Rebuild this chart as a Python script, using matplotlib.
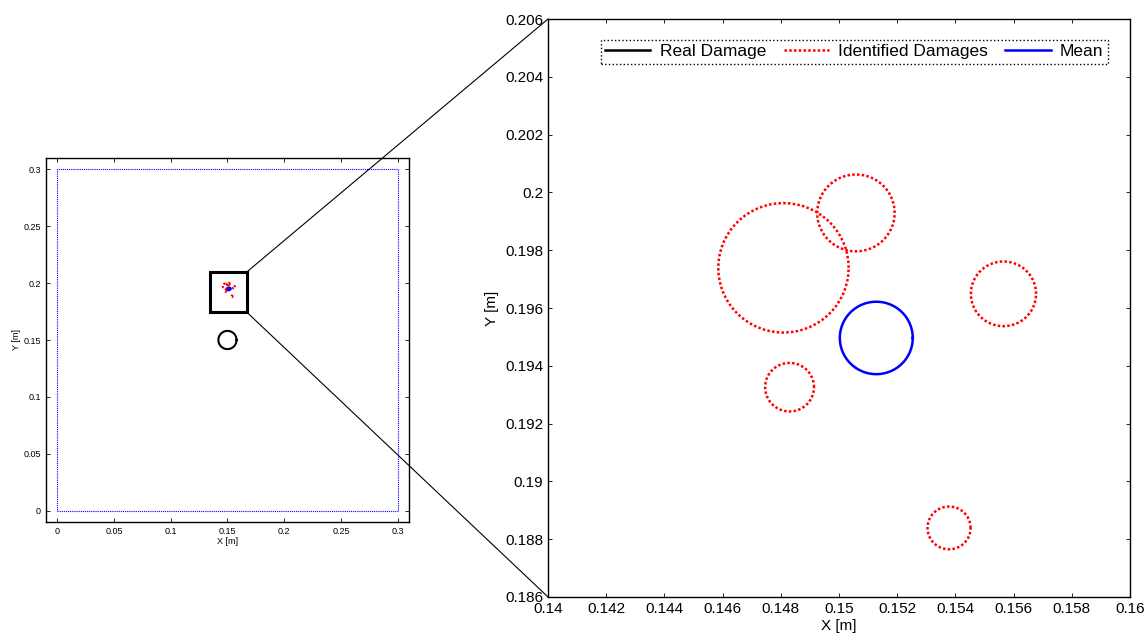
import numpy as np
import matplotlib
matplotlib.use("Agg")
import matplotlib.pyplot as plt
from matplotlib.patches import ConnectionPatch, Rectangle
from matplotlib.ticker import MultipleLocator, FuncFormatter

plt.rcParams["font.family"] = ["Liberation Sans", "DejaVu Sans"]

# plate outline [m]
PLATE = (0.0, 0.3)

# real damage
real_x = 0.150
real_y = 0.150
real_r = 0.008

# identified damages (centre x, centre y, radius) [m]
ident_x = [0.14809, 0.15058, 0.15565, 0.14830, 0.15378]
ident_y = [0.19739, 0.19929, 0.19649, 0.19326, 0.18839]
ident_r = [0.00224, 0.00133, 0.00112, 0.00084, 0.00074]

# zoom window shown on the right
zoom_xlim = (0.14, 0.16)
zoom_ylim = (0.186, 0.206)
# marker box around the identified cluster on the overview plot
box_x = (0.1345, 0.1670)
box_y = (0.1745, 0.2098)

mean_x = np.mean(ident_x)
mean_y = np.mean(ident_y)
mean_r = np.mean(ident_r)

theta = np.linspace(0, 2 * np.pi, 61)
DOTS = (0, (1.0, 0.9))


def circ(cx, cy, r):
    return cx + r * np.cos(theta), cy + r * np.sin(theta)


def matlab_fmt(v, pos):
    return "%g" % round(v, 6)


def style_axes(ax, fs):
    ax.tick_params(direction="in", top=True, right=True, labelsize=fs,
                   length=3, width=0.6)
    for sp in ax.spines.values():
        sp.set_linewidth(1.0)
    ax.xaxis.set_major_formatter(FuncFormatter(matlab_fmt))
    ax.yaxis.set_major_formatter(FuncFormatter(matlab_fmt))


fig = plt.figure(figsize=(11.46, 6.40), dpi=100)

# ---- overview of the whole plate
ax0 = fig.add_axes([0.0401, 0.1844, 0.3168, 0.5687])
ax0.plot([PLATE[0], PLATE[1], PLATE[1], PLATE[0], PLATE[0]],
         [PLATE[0], PLATE[0], PLATE[1], PLATE[1], PLATE[0]],
         linestyle=DOTS, color="blue", lw=0.8)
xs, ys = circ(real_x, real_y, real_r)
ax0.plot(xs, ys, "-", color="black", lw=1.5)
for cx, cy, r in zip(ident_x, ident_y, ident_r):
    xs, ys = circ(cx, cy, r)
    ax0.plot(xs, ys, linestyle=DOTS, color="red", lw=1.5)
xs, ys = circ(mean_x, mean_y, mean_r)
ax0.plot(xs, ys, "-", color="blue", lw=1.5)
ax0.add_patch(Rectangle((box_x[0], box_y[0]), box_x[1] - box_x[0],
                        box_y[1] - box_y[0], fill=False,
                        edgecolor="black", lw=2.2, zorder=5))
ax0.set_xlim(-0.01, 0.31)
ax0.set_ylim(-0.01, 0.31)
ax0.xaxis.set_major_locator(MultipleLocator(0.05))
ax0.yaxis.set_major_locator(MultipleLocator(0.05))
style_axes(ax0, 6.5)
ax0.set_xlabel("X [m]", fontsize=6.5, labelpad=1)
ax0.set_ylabel("Y [m]", fontsize=6.5, labelpad=2)

# ---- zoomed view
ax1 = fig.add_axes([0.4782, 0.0672, 0.5079, 0.9031])
xs, ys = circ(real_x, real_y, real_r)
ax1.plot(xs, ys, "-", color="black", lw=1.8, label="Real Damage")
for i, (cx, cy, r) in enumerate(zip(ident_x, ident_y, ident_r)):
    xs, ys = circ(cx, cy, r)
    ax1.plot(xs, ys, linestyle=DOTS, color="red", lw=1.8,
             label="Identified Damages" if i == 0 else None)
xs, ys = circ(mean_x, mean_y, mean_r)
ax1.plot(xs, ys, "-", color="blue", lw=1.8, label="Mean")
ax1.set_xlim(*zoom_xlim)
ax1.set_ylim(*zoom_ylim)
ax1.xaxis.set_major_locator(MultipleLocator(0.002))
ax1.yaxis.set_major_locator(MultipleLocator(0.002))
style_axes(ax1, 11)
ax1.set_xlabel("X [m]", fontsize=11, labelpad=2)
ax1.set_ylabel("Y [m]", fontsize=11, labelpad=4)

leg = ax1.legend(loc="upper right", bbox_to_anchor=(0.962, 0.964),
                 borderaxespad=0, ncol=3, fontsize=12.5, fancybox=False,
                 handlelength=2.6, handletextpad=0.55, columnspacing=1.0,
                 borderpad=0.25)
frame = leg.get_frame()
frame.set_edgecolor("black")
frame.set_linestyle(":")
frame.set_linewidth(1.0)
frame.set_alpha(1)

# connector lines from the marker box to the zoomed axes
for yb, yz in ((box_y[1], zoom_ylim[1]), (box_y[0], zoom_ylim[0])):
    con = ConnectionPatch(xyA=(box_x[1], yb), coordsA=ax0.transData,
                          xyB=(zoom_xlim[0], yz), coordsB=ax1.transData,
                          color="black", lw=0.8)
    fig.add_artist(con)

fig.savefig("out.png", dpi=100)
